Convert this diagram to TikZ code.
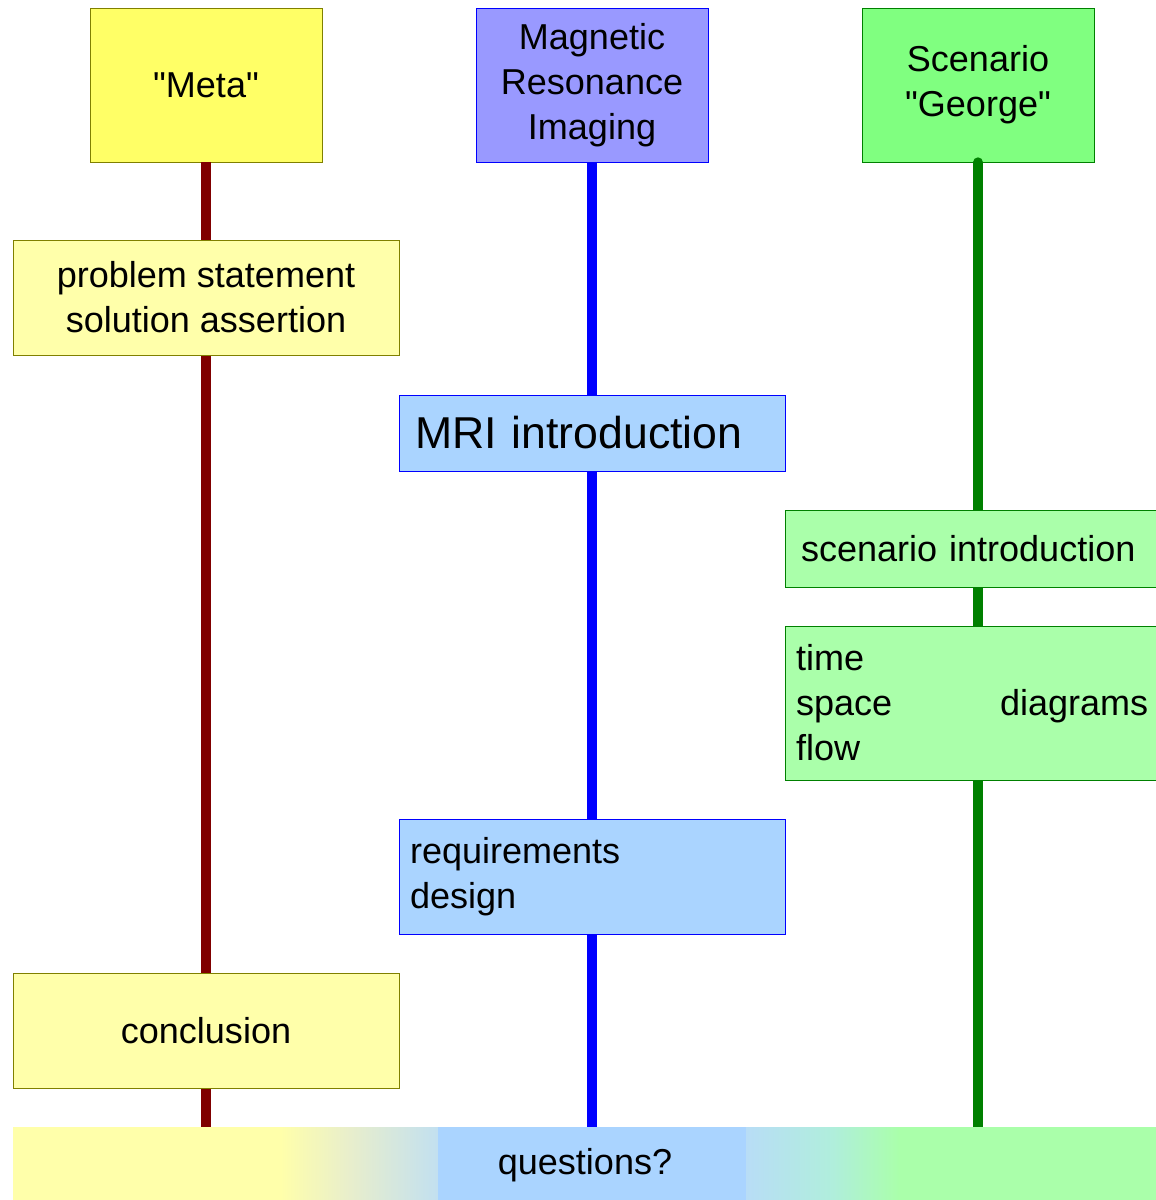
\documentclass[tikz,border=0pt]{standalone}
\usepackage{fontspec}
\setmainfont{Liberation Sans}
\usepackage{tikz}

\definecolor{metahead}{HTML}{FFFF66}
\definecolor{metabox}{HTML}{FFFFAA}
\definecolor{metaedge}{HTML}{808000}
\definecolor{metaline}{HTML}{800000}
\definecolor{mrihead}{HTML}{9999FF}
\definecolor{mribox}{HTML}{AAD4FF}
\definecolor{georgehead}{HTML}{80FF80}
\definecolor{georgebox}{HTML}{AAFFAA}
\definecolor{georgeline}{HTML}{008000}
\definecolor{fadeA}{HTML}{E8EECC}
\definecolor{fadeB}{HTML}{C2E0F0}
\definecolor{fadeC}{HTML}{B8DDF6}
\definecolor{fadeD}{HTML}{B0EEDC}

\newcommand{\qq}[1]{\textquotedbl#1\textquotedbl}

\tikzset{
  txt/.style={font=\fontsize{20.5}{25.6}\selectfont},
  head/.style={txt, draw, minimum width=4.64cm, minimum height=3.08cm, align=center},
  topic/.style={txt, draw, minimum width=7.72cm, minimum height=2.3cm, align=center},
  lefttopic/.style={topic, text width=7.08cm, inner xsep=0.32cm, align=left},
  track/.style={line width=5.7pt}
}

\begin{document}
\begin{tikzpicture}[x=0.02cm, y=-0.02cm]
  \clip (0,0) rectangle (1156,1200);

  % Heads
  \node[head, fill=metahead, draw=metaedge] (meta) at (206,85) {\qq{Meta}};
  \node[head, fill=mrihead, draw=blue] (mri) at (592,85) {Magnetic\\Resonance\\Imaging};
  \node[head, fill=georgehead, draw=georgeline] (george) at (978,85) {Scenario\\\qq{George}};

  % Tracks
  \coordinate (metaend) at (206,1127);
  \coordinate (mriend) at (592,1127);
  \coordinate (georgeend) at (978,1127);
  \draw[track, metaline] (meta.south) -- (metaend);
  \draw[track, blue] (mri.south) -- (mriend);
  \draw[track, georgeline, line cap=round] (george.south) -- (georgeend);

  % Meta
  \node[topic, fill=metabox, draw=metaedge] (problem) at (206,297.5) {problem statement\\solution assertion};
  \node[topic, fill=metabox, draw=metaedge] (conclusion) at (206,1030.5) {conclusion};

  % MRI
  \node[lefttopic, fill=mribox, draw=blue, minimum height=1.52cm, font=\fontsize{25.4}{30}\selectfont] (mriintro) at (592,433) {MRI introduction};
  \node[lefttopic, fill=mribox, draw=blue, inner xsep=0.22cm, text width=7.28cm] (require) at (592,876.5) {requirements\\design};

  % George
  \node[lefttopic, fill=georgebox, draw=georgeline, minimum height=1.54cm] (scenintro) at (978,548.5) {scenario introduction};
  \node[lefttopic, fill=georgebox, draw=georgeline, minimum height=3.08cm, inner xsep=0.22cm, text width=7.28cm] (tsf) at (978,703) {time\\space\hspace{2.16cm}diagrams\\flow};

  % Questions
  \fill[metabox] (13,1127) rectangle (281,1210);
  \shade[left color=metabox, right color=fadeA] (280,1127) rectangle (350,1210);
  \shade[left color=fadeA, right color=fadeB] (350,1127) rectangle (438,1210);
  \fill[mribox] (438,1127) rectangle (746,1210);
  \shade[left color=fadeC, right color=fadeD] (746,1127) rectangle (832,1210);
  \shade[left color=fadeD, right color=georgebox] (832,1127) rectangle (900,1210);
  \fill[georgebox] (899,1127) rectangle (1160,1210);
  \node[txt] (questions) at (585,1165) {questions?};
\end{tikzpicture}
\end{document}
